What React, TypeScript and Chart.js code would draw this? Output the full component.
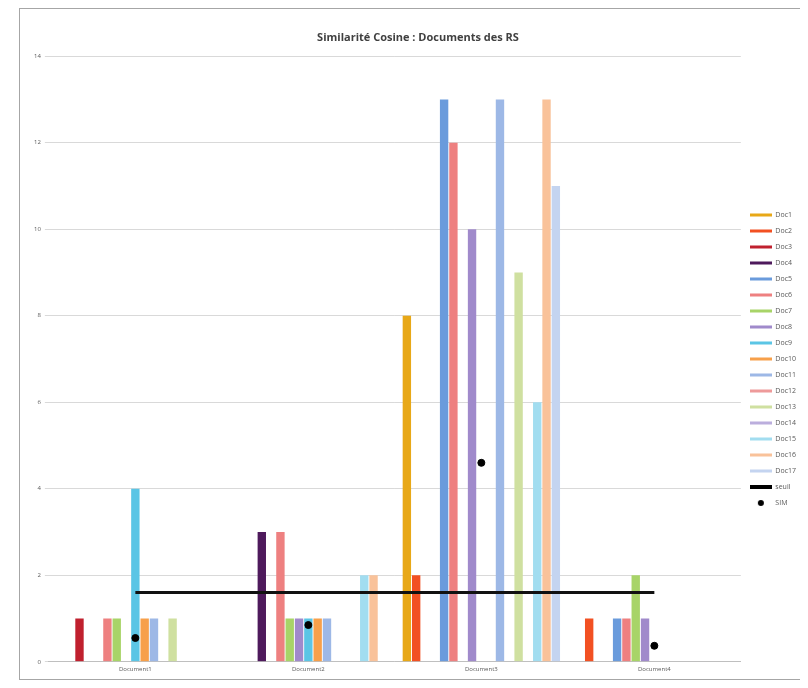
import React, { useEffect, useRef } from "react";
import { Chart, registerables } from "chart.js";

Chart.register(...registerables);

const categories = ["Document1", "Document2", "Document3", "Document4"];

const seriesNames = [
  "Doc1", "Doc2", "Doc3", "Doc4", "Doc5", "Doc6", "Doc7", "Doc8", "Doc9",
  "Doc10", "Doc11", "Doc12", "Doc13", "Doc14", "Doc15", "Doc16", "Doc17",
];

const seriesColors = [
  "#E8A817", "#F25022", "#C0202E", "#4E1A5C", "#6A9BDC", "#EE8080",
  "#A8D468", "#A08ACB", "#5BC5E5", "#F7A04A", "#9DB8E6", "#EE9A9A",
  "#CFE0A0", "#BBAEDD", "#A2DDF0", "#F9C29A", "#C4D4F0",
];

const doc1 = [0, 0, 8, 0];
const doc2 = [0, 0, 2, 1];
const doc3 = [1, 0, 0, 0];
const doc4 = [0, 3, 0, 0];
const doc5 = [0, 0, 13, 1];
const doc6 = [1, 3, 12, 1];
const doc7 = [1, 1, 0, 2];
const doc8 = [0, 1, 10, 1];
const doc9 = [4, 1, 0, 0];
const doc10 = [1, 1, 0, 0];
const doc11 = [1, 1, 13, 0];
const doc12 = [0, 0, 0, 0];
const doc13 = [1, 0, 9, 0];
const doc14 = [0, 0, 0, 0];
const doc15 = [0, 2, 6, 0];
const doc16 = [0, 2, 13, 0];
const doc17 = [0, 0, 11, 0];

const seriesValues = [
  doc1, doc2, doc3, doc4, doc5, doc6, doc7, doc8, doc9,
  doc10, doc11, doc12, doc13, doc14, doc15, doc16, doc17,
];

const seuilLabel = "seuil";
const seuilValues = [1.6, 1.6, 1.6, 1.6];
const simLabel = "SIM";
const simValues = [0.55, 0.85, 4.6, 0.37];

const yTicks = [0, 2, 4, 6, 8, 10, 12, 14];

const titleText = "Similarité Cosine : Documents des RS";

function lineIcon(color: string, h: number) {
  const c = document.createElement("canvas");
  c.width = 22;
  c.height = 6;
  const ctx = c.getContext("2d")!;
  ctx.fillStyle = color;
  ctx.fillRect(0, (6 - h) / 2, 22, h);
  return c;
}

function dotIcon() {
  const c = document.createElement("canvas");
  c.width = 22;
  c.height = 8;
  const ctx = c.getContext("2d")!;
  ctx.fillStyle = "#000";
  ctx.beginPath();
  ctx.arc(11, 4, 3, 0, Math.PI * 2);
  ctx.fill();
  return c;
}

export default function App() {
  const ref = useRef<HTMLCanvasElement>(null);

  useEffect(() => {
    if (!ref.current) return;
    const barSets = seriesValues.map((vals, i) => ({
      type: "bar" as const,
      label: seriesNames[i],
      data: vals,
      backgroundColor: seriesColors[i],
      borderWidth: 0,
      order: 1,
    }));
    const icons = [
      ...seriesColors.map((c) => lineIcon(c, 3)),
      lineIcon("#000", 4),
      dotIcon(),
    ];
    const chart = new Chart(ref.current, {
      type: "bar",
      data: {
        labels: categories,
        datasets: [
          ...barSets,
          {
            type: "line" as const,
            label: seuilLabel,
            data: seuilValues,
            borderColor: "#111",
            backgroundColor: "#111",
            borderWidth: 3,
            pointRadius: 0,
            order: 0,
          },
          {
            type: "line" as const,
            label: simLabel,
            data: simValues,
            showLine: false,
            borderColor: "#000",
            backgroundColor: "#000",
            pointRadius: 3.5,
            pointHoverRadius: 3.5,
            order: 0,
          },
        ] as any,
      },
      options: {
        animation: false,
        responsive: false,
        maintainAspectRatio: false,
        datasets: {
          bar: { categoryPercentage: 0.915, barPercentage: 0.9 },
        },
        layout: { padding: { left: 10, right: -6, top: 0, bottom: 2 } },
        plugins: {
          title: {
            display: true,
            text: titleText,
            color: "#404040",
            font: { family: "Open Sans", size: 11, weight: "bold" },
            padding: { top: 22, bottom: 12 },
          },
          legend: {
            position: "right",
            fullSize: false,
            labels: {
              usePointStyle: true,
              pointStyleWidth: 22,
              boxHeight: 7,
              padding: 9,
              color: "#595959",
              font: { family: "Open Sans", size: 7 },
              generateLabels: (ch: any) =>
                ch.data.datasets.map((ds: any, i: number) => ({
                  text: ds.label,
                  fillStyle: "transparent",
                  strokeStyle: "transparent",
                  lineWidth: 0,
                  pointStyle: icons[i],
                  datasetIndex: i,
                  hidden: false,
                  fontColor: "#595959",
                })),
            },
          },
          tooltip: { enabled: false },
        },
        scales: {
          x: {
            grid: { display: false, drawTicks: false, tickLength: 0 },
            border: { color: "#bfbfbf" },
            ticks: {
              color: "#595959",
              font: { family: "Open Sans", size: 6 },
              padding: 4,
            },
          },
          y: {
            min: 0,
            max: 14,
            afterBuildTicks: (axis: any) => {
              axis.ticks = yTicks.map((v) => ({ value: v }));
            },
            grid: { color: "#d9d9d9", tickLength: 4 },
            border: { display: false },
            ticks: {
              color: "#595959",
              font: { family: "Open Sans", size: 6 },
              padding: 4,
            },
          },
        },
      } as any,
    });
    return () => chart.destroy();
  }, []);

  return (
    <div
      style={{
        position: "relative",
        marginLeft: 11,
        width: 780,
        height: 670,
        border: "1px solid #a6a6a6",
        background: "#fff",
      }}
    >
      <canvas ref={ref} width={780} height={670} style={{ display: "block" }} />
    </div>
  );
}
